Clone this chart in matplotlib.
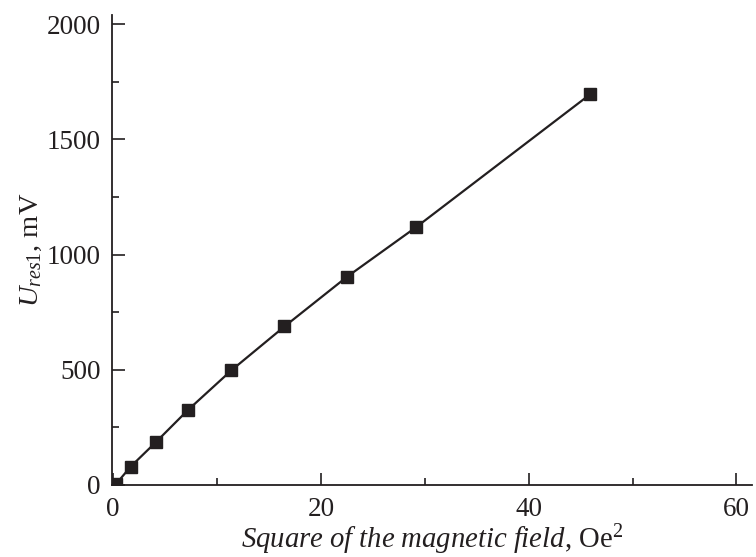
import matplotlib
matplotlib.use("Agg")
import matplotlib.pyplot as plt
from matplotlib.ticker import MultipleLocator

x_field_sq = [0.0, 0.3, 1.7, 4.1, 7.2, 11.4, 16.5, 22.5, 29.2, 45.9]
u_res1 = [0, 5, 80, 185, 325, 498, 688, 903, 1120, 1695]

plt.rcParams['font.family'] = ['Liberation Serif', 'DejaVu Serif']
plt.rcParams['mathtext.fontset'] = 'custom'
plt.rcParams['mathtext.rm'] = 'Liberation Serif'
plt.rcParams['mathtext.it'] = 'Liberation Serif:italic'

col = '#231f20'
fig = plt.figure(figsize=(7.56, 5.57), dpi=100)
ax = fig.add_axes([112/756, 72/557, 640/756, 470/557])
ax.plot(x_field_sq, u_res1, '-s', color=col, lw=1.6, ms=8.5, mfc=col, mec=col)

ax.set_xlim(-0.1, 61.5)
ax.set_ylim(0, 2040)
ax.xaxis.set_major_locator(MultipleLocator(20))
ax.xaxis.set_minor_locator(MultipleLocator(10))
ax.yaxis.set_major_locator(MultipleLocator(500))
ax.yaxis.set_minor_locator(MultipleLocator(250))
for s in ['top', 'right']:
    ax.spines[s].set_visible(False)
for s in ['left', 'bottom']:
    ax.spines[s].set_linewidth(1.3)
    ax.spines[s].set_color(col)
ax.tick_params(which='major', direction='in', length=9, width=1.2, labelsize=19.5, colors=col)
ax.tick_params(axis='x', which='major', pad=9)
ax.tick_params(axis='y', which='major', pad=8)
ax.tick_params(which='minor', direction='in', length=5, width=1.2, colors=col)

ax.set_xlabel(r'$\it{Square\ of\ the\ magnetic\ field}$, Oe$^2$', fontsize=20.7, color=col, labelpad=0)
ax.set_ylabel(r'$U_{res1}$, mV', fontsize=20.5, color=col, labelpad=2)

fig.savefig('out.png', dpi=100)
